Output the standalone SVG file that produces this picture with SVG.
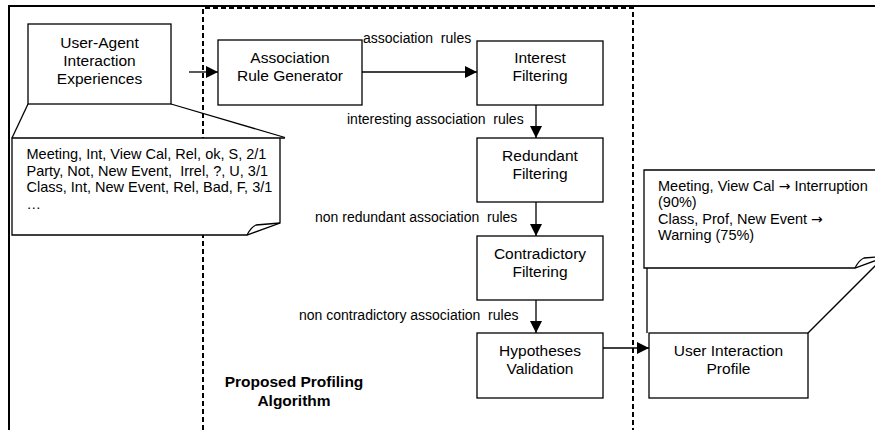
<svg xmlns="http://www.w3.org/2000/svg" width="875" height="430" viewBox="0 0 875 430">
<style>
.frame{fill:none;stroke:#000;stroke-width:2}
.dash{fill:none;stroke:#000;stroke-width:2;stroke-dasharray:5 3}
.box{fill:#fff;stroke:#000;stroke-width:1.3}
.note{fill:#fff;stroke:#000;stroke-width:1.3;stroke-linejoin:miter}
.ln{fill:none;stroke:#000;stroke-width:1.3}
.bt{font-family:"Liberation Sans",Arial,sans-serif;font-size:15.5px;text-anchor:middle;fill:#000}
.lb{font-family:"Liberation Sans",Arial,sans-serif;font-size:14px;fill:#000;white-space:pre}
.nt{font-family:"Liberation Sans",Arial,sans-serif;font-size:14.5px;fill:#000;white-space:pre}
.ar{font-family:"DejaVu Sans",sans-serif;font-size:14px}
.ttl{font-family:"Liberation Sans",Arial,sans-serif;font-size:15.5px;font-weight:bold;text-anchor:middle;fill:#000}
</style>
<defs>
<marker id="ah" markerWidth="12" markerHeight="12" viewBox="0 0 12 12" refX="12" refY="6" orient="auto" markerUnits="userSpaceOnUse">
<path d="M0,0 L12,6 L0,12 Z" fill="#000"/>
</marker>
</defs>
<g id="frame">
<path class="frame" d="M9,430 V6 H875"/>
<path class="dash" d="M203,430 V8 H633 V430"/>
</g>
<g id="connectors">
<line class="ln" x1="189" y1="72" x2="218" y2="72" marker-end="url(#ah)"/>
<line class="ln" x1="362" y1="72" x2="477" y2="72" marker-end="url(#ah)"/>
<line class="ln" x1="536" y1="105" x2="536" y2="138" marker-end="url(#ah)"/>
<line class="ln" x1="536" y1="202" x2="536" y2="236" marker-end="url(#ah)"/>
<line class="ln" x1="536" y1="300" x2="536" y2="333" marker-end="url(#ah)"/>
<line class="ln" x1="603" y1="348" x2="649" y2="348" marker-end="url(#ah)"/>
<text class="lb" x="363" y="42.5">association  rules</text>
<text class="lb" x="347" y="123.5">interesting association  rules</text>
<text class="lb" x="315" y="222">non redundant association  rules</text>
<text class="lb" x="299" y="320">non contradictory association  rules</text>
</g>
<g id="experiences">
<rect class="box" x="28" y="24" width="143" height="80"/>
<text class="bt" x="99.5" y="47.5">User-Agent</text>
<text class="bt" x="99.5" y="66">Interaction</text>
<text class="bt" x="99.5" y="84">Experiences</text>
</g>
<g id="experiences-note">
<line class="ln" x1="28" y1="104" x2="12" y2="138"/>
<line class="ln" x1="171" y1="104" x2="285" y2="137.5"/>
<path class="note" d="M285,138 H12 V235 H247 L280,223 V138"/>
<path class="ln" d="M247,235 Q251,227 256,225 L280,223"/>
<text class="nt" x="26.5" y="159">Meeting, Int, View Cal, Rel, ok, S, 2/1</text>
<text class="nt" x="26.5" y="175.5">Party, Not, New Event,  Irrel, ?, U, 3/1</text>
<text class="nt" x="26.5" y="192">Class, Int, New Event, Rel, Bad, F, 3/1</text>
<text class="nt" x="26.5" y="208.5">…</text>
</g>
<g id="generator">
<rect class="box" x="218" y="40" width="144" height="65"/>
<text class="bt" x="290" y="63">Association</text>
<text class="bt" x="290" y="81">Rule Generator</text>
</g>
<g id="interest">
<rect class="box" x="477" y="41" width="126" height="64"/>
<text class="bt" x="540" y="63">Interest</text>
<text class="bt" x="540" y="81">Filtering</text>
</g>
<g id="redundant">
<rect class="box" x="477" y="138" width="126" height="64"/>
<text class="bt" x="540" y="160.5">Redundant</text>
<text class="bt" x="540" y="178.5">Filtering</text>
</g>
<g id="contradictory">
<rect class="box" x="477" y="236" width="126" height="64"/>
<text class="bt" x="540" y="258.5">Contradictory</text>
<text class="bt" x="540" y="276.5">Filtering</text>
</g>
<g id="hypotheses">
<rect class="box" x="477" y="333" width="126" height="65"/>
<text class="bt" x="540" y="356">Hypotheses</text>
<text class="bt" x="540" y="374">Validation</text>
</g>
<g id="profile">
<rect class="box" x="649" y="333" width="159" height="65"/>
<text class="bt" x="728.5" y="356">User Interaction</text>
<text class="bt" x="728.5" y="374">Profile</text>
</g>
<g id="profile-note">
<line class="ln" x1="647" y1="268" x2="647" y2="333"/>
<line class="ln" x1="808" y1="333" x2="882" y2="259"/>
<path class="note" d="M890,170 H644 V268 H855 L888,256"/>
<path class="ln" d="M855,268 Q859,260 864,258 L888,256"/>
<text class="nt" x="658" y="190.5">Meeting, View Cal <tspan class="ar">→</tspan> Interruption</text>
<text class="nt" x="658" y="207">(90%)</text>
<text class="nt" x="658" y="223.5">Class, Prof, New Event <tspan class="ar">→</tspan></text>
<text class="nt" x="658" y="240">Warning (75%)</text>
</g>
<g id="title">
<text class="ttl" x="294" y="387">Proposed Profiling</text>
<text class="ttl" x="294" y="406">Algorithm</text>
</g>
</svg>
